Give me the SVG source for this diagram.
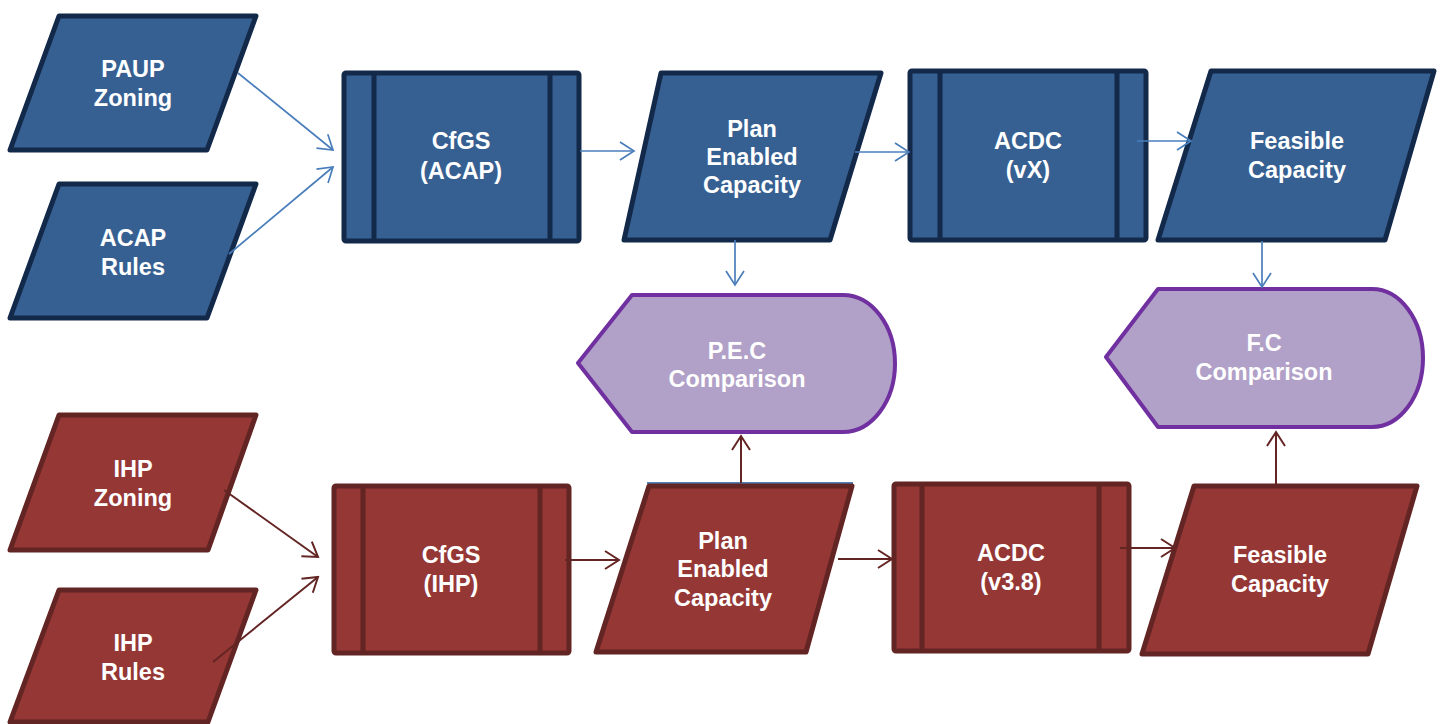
<svg xmlns="http://www.w3.org/2000/svg" width="1443" height="724" viewBox="0 0 1443 724">
<defs>
<style>
.b{fill:#376092;stroke:#13294a;stroke-width:5;stroke-linejoin:round}
.bl{stroke:#13294a;stroke-width:5;fill:none}
.r{fill:#953735;stroke:#632523;stroke-width:5;stroke-linejoin:round}
.rl{stroke:#632523;stroke-width:5;fill:none}
.p{fill:#b1a0c7;stroke:#7030a0;stroke-width:4;stroke-linejoin:round}
text{font-family:"Liberation Sans",Arial,sans-serif;font-weight:bold;font-size:23.5px;fill:#ffffff;text-anchor:middle}
.cb{stroke:#4a7ebb;stroke-width:1.7;fill:none}
.cr{stroke:#632523;stroke-width:2;fill:none}
</style>
<marker id="ab" viewBox="-16 -11 18 22" refX="0" refY="0" markerWidth="18" markerHeight="22" markerUnits="userSpaceOnUse" orient="auto">
<path d="M-14,-9 L0,0 L-14,9" fill="none" stroke="#4a7ebb" stroke-width="1.7"/>
</marker>
<marker id="ar" viewBox="-16 -11 18 22" refX="0" refY="0" markerWidth="18" markerHeight="22" markerUnits="userSpaceOnUse" orient="auto">
<path d="M-14,-9 L0,0 L-14,9" fill="none" stroke="#632523" stroke-width="2"/>
</marker>
</defs>
<rect width="1443" height="724" fill="#ffffff"/>

<g id="paup-zoning">
<polygon class="b" points="59,16 256,16 207,150 10,150"/>
<text x="133" y="77">PAUP</text><text x="133" y="106">Zoning</text>
</g>
<g id="acap-rules">
<polygon class="b" points="59,184 256,184 207,318 10,318"/>
<text x="133" y="246">ACAP</text><text x="133" y="275">Rules</text>
</g>
<g id="cfgs-acap">
<rect class="b" x="344" y="73" width="235" height="168" rx="2"/>
<line class="bl" x1="374" y1="73" x2="374" y2="241"/><line class="bl" x1="550" y1="73" x2="550" y2="241"/>
<text x="461" y="149">CfGS</text><text x="461" y="179">(ACAP)</text>
</g>
<g id="pec-top">
<polygon class="b" points="661,73 881,73 830,240 624,240"/>
<text x="752" y="137">Plan</text><text x="752" y="165">Enabled</text><text x="752" y="193">Capacity</text>
</g>
<g id="acdc-vx">
<rect class="b" x="910" y="71" width="236" height="169" rx="2"/>
<line class="bl" x1="940" y1="71" x2="940" y2="240"/><line class="bl" x1="1117" y1="71" x2="1117" y2="240"/>
<text x="1028" y="149">ACDC</text><text x="1028" y="178">(vX)</text>
</g>
<g id="fc-top">
<polygon class="b" points="1211,71 1434,71 1385,240 1158,240"/>
<text x="1297" y="149">Feasible</text><text x="1297" y="178">Capacity</text>
</g>

<g id="pec-comparison">
<path class="p" d="M578,363 L632,295 L843,295 A52,68.5 0 0 1 843,432 L632,432 Z"/>
<text x="737" y="359">P.E.C</text><text x="737" y="387">Comparison</text>
</g>
<g id="fc-comparison">
<path class="p" d="M1106,357 L1158,289 L1372,289 A51,69 0 0 1 1372,427 L1158,427 Z"/>
<text x="1264" y="351">F.C</text><text x="1264" y="380">Comparison</text>
</g>

<g id="ihp-zoning">
<polygon class="r" points="59,415 256,415 208,550 10,550"/>
<text x="133" y="477">IHP</text><text x="133" y="506">Zoning</text>
</g>
<g id="ihp-rules">
<polygon class="r" points="59,590 256,590 208,722 10,722"/>
<text x="133" y="651">IHP</text><text x="133" y="680">Rules</text>
</g>
<g id="cfgs-ihp">
<rect class="r" x="334" y="486" width="235" height="167" rx="2"/>
<line class="rl" x1="363" y1="486" x2="363" y2="653"/><line class="rl" x1="540" y1="486" x2="540" y2="653"/>
<text x="451" y="563">CfGS</text><text x="451" y="592">(IHP)</text>
</g>
<g id="pec-bottom">
<line x1="647" y1="483" x2="853" y2="483" stroke="#4f81bd" stroke-width="2"/>
<polygon class="r" points="649,486 852,486 806,652 596,652"/>
<text x="723" y="549">Plan</text><text x="723" y="577">Enabled</text><text x="723" y="606">Capacity</text>
</g>
<g id="acdc-v38">
<rect class="r" x="894" y="484" width="235" height="167" rx="2"/>
<line class="rl" x1="922" y1="484" x2="922" y2="651"/><line class="rl" x1="1099" y1="484" x2="1099" y2="651"/>
<text x="1011" y="561">ACDC</text><text x="1011" y="590">(v3.8)</text>
</g>
<g id="fc-bottom">
<polygon class="r" points="1194,486 1417,486 1368,654 1142,654"/>
<text x="1280" y="563">Feasible</text><text x="1280" y="592">Capacity</text>
</g>

<g id="connectors">
<line class="cb" x1="238" y1="73" x2="333" y2="150" marker-end="url(#ab)"/>
<line class="cb" x1="229" y1="254" x2="333" y2="167" marker-end="url(#ab)"/>
<line class="cb" x1="580" y1="151" x2="634" y2="151" marker-end="url(#ab)"/>
<line class="cb" x1="855" y1="152" x2="909" y2="152" marker-end="url(#ab)"/>
<line class="cb" x1="1137" y1="141" x2="1191" y2="141" marker-end="url(#ab)"/>
<line class="cb" x1="735" y1="240" x2="735" y2="285" marker-end="url(#ab)"/>
<line class="cb" x1="1262" y1="241" x2="1262" y2="287" marker-end="url(#ab)"/>
<line class="cr" x1="224" y1="490" x2="318" y2="557" marker-end="url(#ar)"/>
<line class="cr" x1="213" y1="662" x2="318" y2="577" marker-end="url(#ar)"/>
<line class="cr" x1="565" y1="560" x2="619" y2="560" marker-end="url(#ar)"/>
<line class="cr" x1="838" y1="559" x2="892" y2="559" marker-end="url(#ar)"/>
<line class="cr" x1="1120" y1="548" x2="1175" y2="548" marker-end="url(#ar)"/>
<line class="cr" x1="741" y1="483" x2="741" y2="436" marker-end="url(#ar)"/>
<line class="cr" x1="1276" y1="485" x2="1276" y2="432" marker-end="url(#ar)"/>
</g>
</svg>
